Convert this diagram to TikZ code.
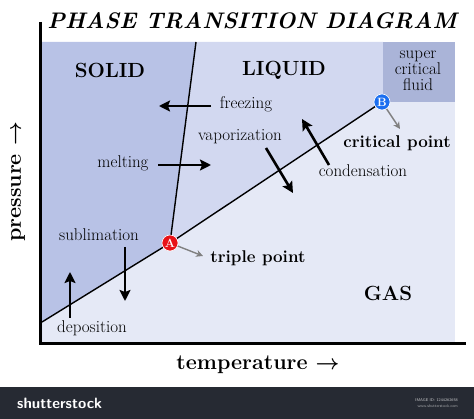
\documentclass[tikz,border=0pt]{standalone}
\usepackage{amsmath}
\usepackage{fontspec}
\usepackage{tikz}
\usetikzlibrary{arrows.meta, positioning}

\definecolor{solidblue}{RGB}{184,194,230}
\definecolor{liquidblue}{RGB}{210,216,240}
\definecolor{gasblue}{RGB}{229,233,246}
\definecolor{fluidblue}{RGB}{170,180,216}
\definecolor{tripred}{RGB}{232,18,24}
\definecolor{critblue}{RGB}{26,110,240}
\definecolor{barcolor}{RGB}{38,42,51}

\begin{document}
\begin{tikzpicture}[x=1pt, y=-1pt]
    % Define styles
    \tikzstyle{phase} = [font=\fontsize{20.5}{22}\selectfont\bfseries, inner sep=0pt]
    \tikzstyle{change} = [font=\fontsize{17}{19}\selectfont, inner sep=0pt]
    \tikzstyle{point} = [font=\fontsize{17}{19}\selectfont\bfseries, inner sep=0pt]
    \tikzstyle{axislabel} = [font=\fontsize{21.5}{23}\selectfont\bfseries, inner sep=0pt]
    \tikzstyle{move} = [draw, line width=2.6pt, -{Stealth[length=11pt, width=11pt, inset=2pt]}]
    \tikzstyle{pointer} = [draw, gray, line width=1.4pt, -{Stealth[length=7pt, width=7pt]}]
    \tikzstyle{dot} = [circle, draw=white, line width=0.6pt, minimum size=16pt, inner sep=0pt, text=white, font=\fontsize{12}{12}\selectfont\bfseries]
    \tikzstyle{boundary} = [draw, line width=1.4pt]

    \useasboundingbox (0,0) rectangle (474,419);

    % Key points of the diagram
    \coordinate (ytop) at (40,22);
    \coordinate (origin) at (40,344);
    \coordinate (xend) at (466,344);
    \coordinate (meltop) at (196,42);
    \coordinate (sublow) at (42,322);
    \coordinate (Apos) at (170,243);
    \coordinate (Bpos) at (382,102);

    % Phase regions
    \fill[gasblue] (42,42) rectangle (455,342);
    \fill[liquidblue] (meltop) -- (383,42) -- (383,102) -- (Bpos) -- (Apos) -- cycle;
    \fill[solidblue] (42,42) -- (meltop) -- (Apos) -- (sublow) -- (42,342) -- cycle;
    \fill[fluidblue] (383,42) rectangle (455,102);

    % Title
    \node[font=\fontsize{22.5}{24}\selectfont\bfseries\itshape, inner sep=0pt] (title) at (252,21) {PHASE TRANSITION DIAGRAM};

    % Axes
    \draw[line width=3pt] (ytop) -- (origin) -- (xend);
    \node[axislabel, rotate=90] (ylabel) at (18,182) {pressure $\boldsymbol{\rightarrow}$};
    \node[axislabel] (xlabel) at (258,365) {temperature $\boldsymbol{\rightarrow}$};

    % Phase boundaries
    \draw[boundary] (meltop) -- (Apos);
    \draw[boundary] (sublow) -- (Apos) -- (Bpos);

    % Phase names
    \node[phase] (solid) at (110,70) {SOLID};
    \node[phase] (liquid) at (284,70) {LIQUID};
    \node[phase] (gas) at (388,293) {GAS};
    \node[change, align=center] (fluid) at (418,71) {super\\[-3pt]critical\\[-3pt]fluid};

    % Transitions
    \node[change] (freezing) at (246,104) {freezing};
    \node[change] (vaporization) at (240,137) {vaporization};
    \node[change] (melting) at (123,163) {melting};
    \node[change] (condensation) at (363,171) {condensation};
    \node[change] (sublimation) at (99,235) {sublimation};
    \node[change] (deposition) at (92,328) {deposition};

    \coordinate (frz-a) at (211,106);
    \coordinate (frz-b) at (159,106);
    \coordinate (mlt-a) at (158,165);
    \coordinate (mlt-b) at (211,165);
    \coordinate (vap-a) at (266,148);
    \coordinate (vap-b) at (293,193);
    \coordinate (cnd-a) at (329,165);
    \coordinate (cnd-b) at (302,119);
    \coordinate (sub-a) at (125,247);
    \coordinate (sub-b) at (125,301);
    \coordinate (dep-a) at (70,318);
    \coordinate (dep-b) at (70,272);

    \draw[move] (frz-a) -- (frz-b);
    \draw[move] (mlt-a) -- (mlt-b);
    \draw[move] (vap-a) -- (vap-b);
    \draw[move] (cnd-a) -- (cnd-b);
    \draw[move] (sub-a) -- (sub-b);
    \draw[move] (dep-a) -- (dep-b);

    % Triple and critical points
    \node[dot, fill=tripred] (A) at (Apos) {A};
    \node[dot, fill=critblue] (B) at (Bpos) {B};
    \node[point] (triple) at (258,258) {triple point};
    \node[point] (critical) at (397,143) {critical point};
    \coordinate (tp-tip) at (203,256);
    \coordinate (cp-tip) at (400,129);
    \draw[pointer] (A) -- (tp-tip);
    \draw[pointer] (B) -- (cp-tip);

    % Stock banner
    \fill[barcolor] (0,387) rectangle (474,419);
    \node[text=white, font=\fontsize{15}{15}\selectfont\sffamily\bfseries, anchor=west, inner sep=0pt] (brand) at (17,403) {shutterstock};
    \node[text=white!75!barcolor, font=\fontsize{4}{4}\selectfont\sffamily, anchor=east, inner sep=0pt] (imgid) at (458,400) {IMAGE ID: 1244262658};
    \node[text=white!60!barcolor, font=\fontsize{4}{4}\selectfont\sffamily, anchor=east, inner sep=0pt] (site) at (458,406) {www.shutterstock.com};
\end{tikzpicture}
\end{document}
